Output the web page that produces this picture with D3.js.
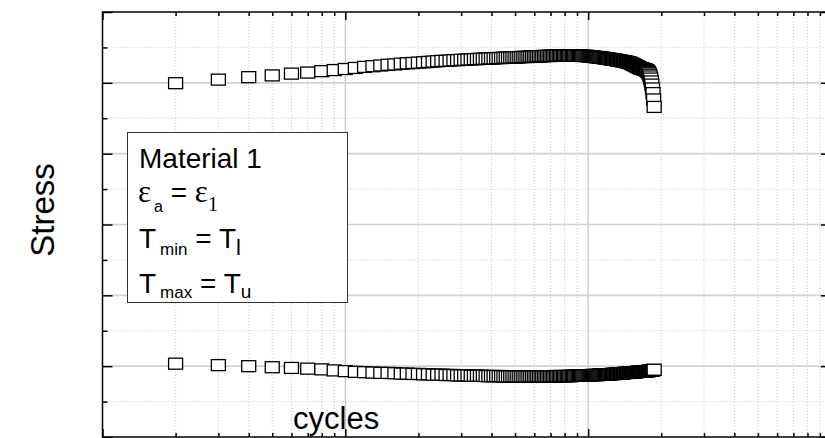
<!DOCTYPE html>
<html>
<head>
<meta charset="utf-8">
<script src="https://cdn.jsdelivr.net/npm/d3@7/dist/d3.min.js"></script>
<style>
  html, body { margin: 0; padding: 0; background: #fff; }
  svg { display: block; }
</style>
</head>
<body>
<svg id="chart" width="825" height="438"></svg>
<script>
// ---- data (cycle number, stress extremes per cycle) ----
const cycles = [
  2,3,4,5,6,7,8,9,10,11,
  12,13,14,15,16,17,18,19,20,21,
  22,23,24,25,26,27,28,29,30,31,
  32,33,34,35,36,37,38,39,40,41,
  42,43,44,45,46,47,48,49,50,51,
  52,53,54,55,56,57,58,59,60,61,
  62,63,64,65,66,67,68,69,70,71,
  72,73,74,75,76,77,78,79,80,81,
  82,83,84,85,86,87,88,89,90,91,
  92,93,94,95,96,97,98,99,100,101,
  102,103,104,105,106,107,108,109,110,111,
  112,113,114,115,116,117,118,119,120,121,
  122,123,124,125,126,127,128,129,130,131,
  132,133,134,135,136,137,138,139,140,141,
  142,143,144,145,146,147,148,149,150,151,
  152,153,154,155,156,157,158,159,160,161,
  162,163,164,165,166,167,168,169,170,171,
  172,173,174,175,176,177,178,179,180,181,
  182,183,184,185,186,187
];
const stressMax = [
  399,409,416,421,426,429,433,436,439,442,
  445,447,449,451,452,454,455,456,457,458,
  459,460,461,462,462,463,464,464,465,465,
  466,466,467,467,468,468,468,469,469,469,
  470,470,470,471,471,471,471,472,472,472,
  472,473,473,473,473,474,474,474,474,475,
  475,475,475,475,476,476,476,476,476,476,
  477,477,477,477,477,477,477,477,477,477,
  477,477,477,477,477,477,477,477,477,477,
  477,477,476,476,476,476,476,476,475,475,
  475,474,474,474,473,473,473,472,472,472,
  471,471,471,470,470,470,469,469,469,468,
  468,467,467,466,466,466,465,465,465,464,
  464,463,463,463,462,462,461,461,461,460,
  460,459,459,458,458,457,457,456,455,454,
  453,452,451,450,449,448,447,446,445,444,
  443,442,441,441,440,440,439,439,438,438,
  437,436,435,434,432,430,427,423,418,412,
  404,395,384,371,353,332
];
const stressMin = [
  -393,-397,-400,-403,-405,-407,-409,-412,-414,-416,
  -417,-418,-419,-419,-420,-421,-421,-422,-422,-423,
  -423,-424,-424,-424,-425,-425,-425,-426,-426,-426,
  -426,-427,-427,-427,-427,-427,-428,-428,-428,-428,
  -428,-428,-428,-429,-429,-429,-429,-429,-429,-429,
  -429,-429,-429,-429,-429,-429,-429,-429,-429,-429,
  -429,-429,-429,-429,-429,-429,-429,-429,-429,-429,
  -429,-429,-428,-428,-428,-428,-428,-428,-428,-428,
  -428,-428,-428,-428,-427,-427,-427,-427,-427,-427,
  -427,-427,-427,-427,-426,-426,-426,-426,-426,-426,
  -426,-426,-425,-425,-425,-425,-425,-425,-425,-424,
  -424,-424,-424,-424,-424,-424,-424,-423,-423,-423,
  -423,-423,-423,-422,-422,-422,-422,-422,-421,-421,
  -421,-421,-421,-421,-420,-420,-420,-420,-420,-419,
  -419,-419,-419,-419,-419,-418,-418,-418,-418,-418,
  -418,-417,-417,-417,-417,-417,-417,-416,-416,-416,
  -416,-416,-416,-416,-415,-415,-415,-415,-415,-415,
  -415,-414,-414,-414,-414,-414,-413,-413,-413,-413,
  -412,-412,-412,-411,-411,-410
];
const xDomain = [1, 1000];
const yDomain = [-600, 600];
const yMajorTicks = [-600,-400,-200,0,200,400,600];
const yMinorTicks = [-500,-300,-100,100,300,500];
const xMajorTicks = [1,10,100,1000];
const xMinorTicks = [2,3,4,5,6,7,8,9,20,30,40,50,60,70,80,90,200,300,400,500,600,700,800,900];
const yLabel = "Stress";
const xLabel = "cycles";

(function draw() {
  // ---- layout ----
  const pL = 102.5, pR = 831, pT = 12, pB = 437;
  const svg = d3.select("#chart");
  const x = d3.scaleLog().domain(xDomain).range([pL, pR]);
  const y = d3.scaleLinear().domain(yDomain).range([pB, pT]);

  const grid = svg.append("g");
  grid.selectAll(".vmin").data(xMinorTicks).join("line")
    .attr("x1", d => x(d)).attr("x2", d => x(d)).attr("y1", pT).attr("y2", pB)
    .attr("stroke", "#c8c8c8").attr("stroke-width", 1).attr("stroke-dasharray", "1,2");
  grid.selectAll(".hmin").data(yMinorTicks).join("line")
    .attr("x1", pL).attr("x2", pR).attr("y1", d => y(d)).attr("y2", d => y(d))
    .attr("stroke", "#c8c8c8").attr("stroke-width", 1).attr("stroke-dasharray", "1,2");
  grid.selectAll(".vmaj").data(xMajorTicks.slice(1, -1)).join("line")
    .attr("x1", d => x(d)).attr("x2", d => x(d)).attr("y1", pT).attr("y2", pB)
    .attr("stroke", "#c4c4c4").attr("stroke-width", 1.2);
  grid.selectAll(".hmaj").data(yMajorTicks.slice(1, -1)).join("line")
    .attr("x1", pL).attr("x2", pR).attr("y1", d => y(d)).attr("y2", d => y(d))
    .attr("stroke", "#d2d2d2").attr("stroke-width", 1.6);

  function ax(gen, scale, ticks, size, transform) {
    svg.append("g").attr("transform", transform)
      .call(gen(scale).tickValues(ticks).tickSize(size).tickFormat(""))
      .call(g => g.select(".domain").remove())
      .call(g => g.selectAll("line").attr("stroke", "#000").attr("stroke-width", 1.5));
  }
  ax(d3.axisTop, x, xMajorTicks, -8, `translate(0,${pT})`);
  ax(d3.axisTop, x, xMinorTicks, -4, `translate(0,${pT})`);
  ax(d3.axisBottom, x, xMajorTicks, -8, `translate(0,${pB})`);
  ax(d3.axisBottom, x, xMinorTicks, -4, `translate(0,${pB})`);
  ax(d3.axisLeft, y, yMajorTicks, -10, `translate(${pL},0)`);
  ax(d3.axisLeft, y, yMinorTicks, -5, `translate(${pL},0)`);
  ax(d3.axisRight, y, yMajorTicks, -10, `translate(${pR},0)`);
  ax(d3.axisRight, y, yMinorTicks, -5, `translate(${pR},0)`);

  svg.append("rect").attr("x", pL).attr("y", pT)
    .attr("width", pR - pL).attr("height", pB - pT)
    .attr("fill", "none").attr("stroke", "#000").attr("stroke-width", 1.5);

  const mw = 14, mh = 11;
  function series(vals) {
    svg.append("g").selectAll("rect").data(cycles).join("rect")
      .attr("x", (c) => x(c) - mw / 2)
      .attr("y", (c, i) => y(vals[i]) - mh / 2)
      .attr("width", mw).attr("height", mh)
      .attr("fill", "#fff").attr("stroke", "#000").attr("stroke-width", 1.3);
  }
  series(stressMax);
  series(stressMin);

  const lg = svg.append("g");
  lg.append("rect").attr("x", 127.5).attr("y", 132.5).attr("width", 220).attr("height", 170)
    .attr("fill", "#fff").attr("stroke", "#333").attr("stroke-width", 1);
  const sans = "'Liberation Sans', Arial, sans-serif";
  const serif = "'Liberation Serif', 'Times New Roman', serif";
  lg.append("text").attr("x", 139).attr("y", 168).attr("font-family", sans).attr("font-size", 28)
    .text("Material 1");
  const l2 = lg.append("text").attr("x", 138).attr("y", 202).attr("font-family", sans).attr("font-size", 28);
  l2.append("tspan").attr("font-family", serif).attr("font-size", 31).text("ε");
  l2.append("tspan").attr("font-size", 16).attr("dx", 3).attr("dy", 10).text("a");
  l2.append("tspan").attr("dy", -10).text(" = ");
  l2.append("tspan").attr("font-family", serif).attr("font-size", 31).text("ε");
  l2.append("tspan").attr("font-family", serif).attr("font-size", 20).attr("dy", 9).text("1");
  const l3 = lg.append("text").attr("x", 139).attr("y", 248).attr("font-family", sans).attr("font-size", 28);
  l3.append("tspan").text("T");
  l3.append("tspan").attr("font-size", 17).attr("dx", 4).attr("dy", 7).text("min");
  l3.append("tspan").attr("dy", -7).text(" = T");
  l3.append("tspan").attr("font-size", 22).attr("dy", 7).text("l");
  const l4 = lg.append("text").attr("x", 139).attr("y", 293).attr("font-family", sans).attr("font-size", 28);
  l4.append("tspan").text("T");
  l4.append("tspan").attr("font-size", 17).attr("dx", 4).attr("dy", 5).text("max");
  l4.append("tspan").attr("dy", -5).text(" = T");
  l4.append("tspan").attr("font-size", 19).attr("dy", 5).text("u");

  svg.append("text").attr("transform", "translate(54,210) rotate(-90)")
    .attr("text-anchor", "middle").attr("font-family", sans).attr("font-size", 33).text(yLabel);
  svg.append("text").attr("x", 293).attr("y", 429)
    .attr("font-family", sans).attr("font-size", 31).text(xLabel);
})();
</script>
</body>
</html>
